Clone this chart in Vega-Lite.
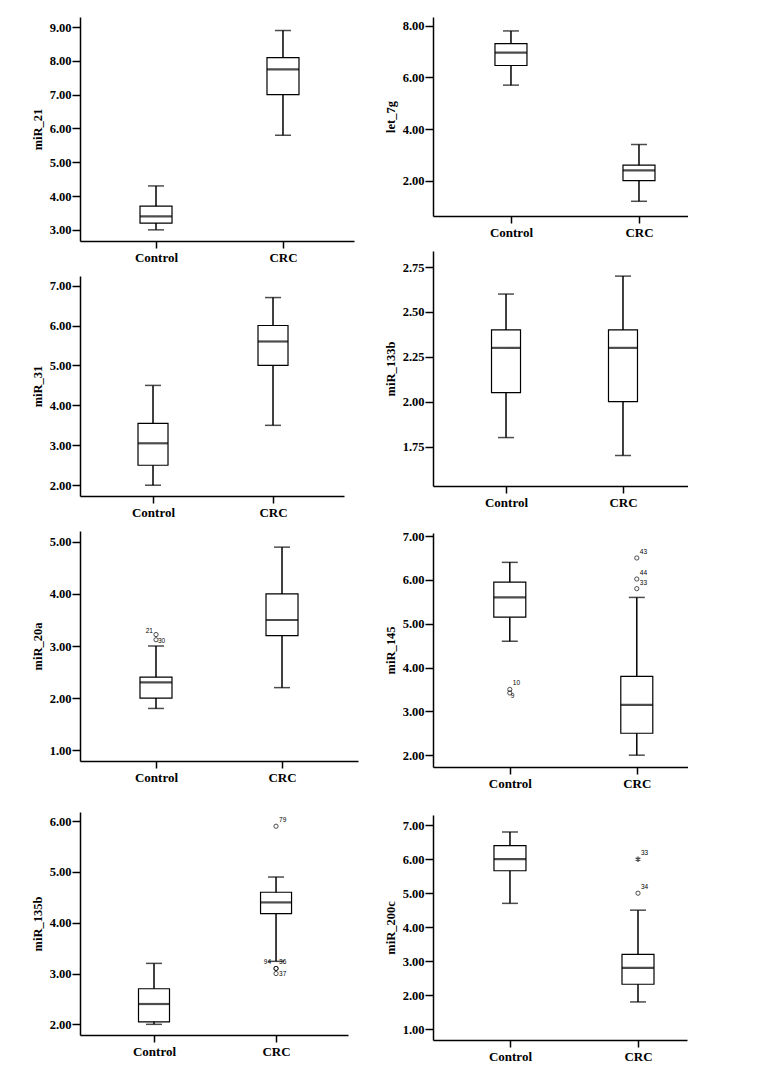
{
  "$schema": "https://vega.github.io/schema/vega-lite/v6.json",
  "background": "white",
  "padding": {"left": 31, "top": 14, "right": 0, "bottom": 0},
  "datasets": {
    "box": [
      {"panel": "miR_21", "group": "Control", "lo": 3.0, "q1": 3.2, "med": 3.4, "q3": 3.7, "hi": 4.3},
      {"panel": "miR_21", "group": "CRC", "lo": 5.8, "q1": 7.0, "med": 7.75, "q3": 8.1, "hi": 8.9},
      {"panel": "let_7g", "group": "Control", "lo": 5.7, "q1": 6.46, "med": 6.96, "q3": 7.31, "hi": 7.8},
      {"panel": "let_7g", "group": "CRC", "lo": 1.2, "q1": 2.0, "med": 2.4, "q3": 2.6, "hi": 3.4},
      {"panel": "miR_31", "group": "Control", "lo": 2.0, "q1": 2.5, "med": 3.05, "q3": 3.55, "hi": 4.5},
      {"panel": "miR_31", "group": "CRC", "lo": 3.5, "q1": 5.0, "med": 5.6, "q3": 6.0, "hi": 6.7},
      {"panel": "miR_133b", "group": "Control", "lo": 1.8, "q1": 2.05, "med": 2.3, "q3": 2.4, "hi": 2.6},
      {"panel": "miR_133b", "group": "CRC", "lo": 1.7, "q1": 2.0, "med": 2.3, "q3": 2.4, "hi": 2.7},
      {"panel": "miR_20a", "group": "Control", "lo": 1.8, "q1": 2.0, "med": 2.3, "q3": 2.4, "hi": 3.0},
      {"panel": "miR_20a", "group": "CRC", "lo": 2.2, "q1": 3.2, "med": 3.5, "q3": 4.0, "hi": 4.9},
      {"panel": "miR_145", "group": "Control", "lo": 4.6, "q1": 5.15, "med": 5.6, "q3": 5.95, "hi": 6.4},
      {"panel": "miR_145", "group": "CRC", "lo": 2.0, "q1": 2.5, "med": 3.15, "q3": 3.8, "hi": 5.6},
      {"panel": "miR_135b", "group": "Control", "lo": 2.0, "q1": 2.05, "med": 2.4, "q3": 2.7, "hi": 3.2},
      {"panel": "miR_135b", "group": "CRC", "lo": 3.24, "q1": 4.18, "med": 4.4, "q3": 4.6, "hi": 4.9},
      {"panel": "miR_200c", "group": "Control", "lo": 4.7, "q1": 5.66, "med": 6.0, "q3": 6.4, "hi": 6.8},
      {"panel": "miR_200c", "group": "CRC", "lo": 1.8, "q1": 2.32, "med": 2.8, "q3": 3.2, "hi": 4.5}
    ],
    "out": [
      {"panel": "miR_20a", "group": "Control", "value": 3.22, "label": "21", "kind": "circle"},
      {"panel": "miR_20a", "group": "Control", "value": 3.12, "label": "30", "kind": "circle"},
      {"panel": "miR_145", "group": "Control", "value": 3.5, "label": "10", "kind": "circle"},
      {"panel": "miR_145", "group": "Control", "value": 3.42, "label": "9", "kind": "circle"},
      {"panel": "miR_145", "group": "CRC", "value": 6.5, "label": "43", "kind": "circle"},
      {"panel": "miR_145", "group": "CRC", "value": 6.02, "label": "44", "kind": "circle"},
      {"panel": "miR_145", "group": "CRC", "value": 5.8, "label": "33", "kind": "circle"},
      {"panel": "miR_135b", "group": "CRC", "value": 5.9, "label": "79", "kind": "circle"},
      {"panel": "miR_135b", "group": "CRC", "value": 3.1, "label": "94", "kind": "circle"},
      {"panel": "miR_135b", "group": "CRC", "value": 3.1, "label": "36", "kind": "circle"},
      {"panel": "miR_135b", "group": "CRC", "value": 3.0, "label": "37", "kind": "circle"},
      {"panel": "miR_200c", "group": "CRC", "value": 6.0, "label": "33", "kind": "star"},
      {"panel": "miR_200c", "group": "CRC", "value": 5.0, "label": "34", "kind": "circle"}
    ]
  },
  "config": {
    "view": {"stroke": null},
    "text": {"color": "black", "fill": "black"},
    "axis": {
      "grid": false,
      "labelOverlap": false,
      "domainColor": "black",
      "domainWidth": 1.5,
      "tickColor": "black",
      "tickWidth": 1.5,
      "labelColor": "black",
      "titleColor": "black",
      "labelFont": "Liberation Serif",
      "titleFont": "Liberation Serif",
      "labelFontWeight": "bold",
      "titleFontWeight": "bold"
    },
    "axisY": {"tickSize": 8, "labelPadding": 1, "labelFontSize": 12.5, "titleFontSize": 12.5, "minExtent": 31, "maxExtent": 31, "titlePadding": 5, "format": ".2f"},
    "axisX": {"tickSize": 7, "labelPadding": 3, "labelFontSize": 13, "labelAngle": 0},
    "title": {"fontSize": 1, "color": "white"}
  },
  "hconcat": [
    {
      "spacing": 12,
      "vconcat": [
        {
          "width": 274, "height": 224,
          "encoding": {"x": {"field": "group", "type": "nominal", "sort": ["Control", "CRC"], "title": null, "scale": {"type": "point", "padding": 0.579, "align": 0.517}}},
          "layer": [
            {"data": {"name": "box"}, "transform": [{"filter": "datum.panel === 'miR_21'"}], "mark": {"type": "rule", "color": "black", "strokeWidth": 1.5},
             "encoding": {"y": {"field": "lo", "type": "quantitative", "title": "miR_21", "scale": {"domain": [2.67, 9.3], "zero": false, "nice": false}, "axis": {"values": [3, 4, 5, 6, 7, 8, 9], "tickCount": 20, "labelOverlap": false}}, "y2": {"field": "hi"}}},
            {"data": {"name": "box"}, "transform": [{"filter": "datum.panel === 'miR_21'"}], "mark": {"type": "tick", "color": "black", "size": 16, "thickness": 1.5},
             "encoding": {"y": {"field": "lo", "type": "quantitative", "title": "miR_21"}}},
            {"data": {"name": "box"}, "transform": [{"filter": "datum.panel === 'miR_21'"}], "mark": {"type": "tick", "color": "black", "size": 16, "thickness": 1.5},
             "encoding": {"y": {"field": "hi", "type": "quantitative", "title": "miR_21"}}},
            {"data": {"name": "box"}, "transform": [{"filter": "datum.panel === 'miR_21'"}], "mark": {"type": "bar", "size": 32, "fill": "white", "stroke": "black", "strokeWidth": 1.2},
             "encoding": {"y": {"field": "q1", "type": "quantitative", "title": "miR_21"}, "y2": {"field": "q3"}}},
            {"data": {"name": "box"}, "transform": [{"filter": "datum.panel === 'miR_21'"}], "mark": {"type": "tick", "color": "black", "size": 32, "thickness": 2.2},
             "encoding": {"y": {"field": "med", "type": "quantitative", "title": "miR_21"}}}
          ]
        },
        {
          "width": 264, "height": 220,
          "encoding": {"x": {"field": "group", "type": "nominal", "sort": ["Control", "CRC"], "title": null, "scale": {"type": "point", "padding": 0.6, "align": 0.507}}},
          "layer": [
            {"data": {"name": "box"}, "transform": [{"filter": "datum.panel === 'miR_31'"}], "mark": {"type": "rule", "color": "black", "strokeWidth": 1.5},
             "encoding": {"y": {"field": "lo", "type": "quantitative", "title": "miR_31", "scale": {"domain": [1.73, 7.24], "zero": false, "nice": false}, "axis": {"values": [2, 3, 4, 5, 6, 7], "tickCount": 20, "labelOverlap": false}}, "y2": {"field": "hi"}}},
            {"data": {"name": "box"}, "transform": [{"filter": "datum.panel === 'miR_31'"}], "mark": {"type": "tick", "color": "black", "size": 16, "thickness": 1.5},
             "encoding": {"y": {"field": "lo", "type": "quantitative", "title": "miR_31"}}},
            {"data": {"name": "box"}, "transform": [{"filter": "datum.panel === 'miR_31'"}], "mark": {"type": "tick", "color": "black", "size": 16, "thickness": 1.5},
             "encoding": {"y": {"field": "hi", "type": "quantitative", "title": "miR_31"}}},
            {"data": {"name": "box"}, "transform": [{"filter": "datum.panel === 'miR_31'"}], "mark": {"type": "bar", "size": 30, "fill": "white", "stroke": "black", "strokeWidth": 1.2},
             "encoding": {"y": {"field": "q1", "type": "quantitative", "title": "miR_31"}, "y2": {"field": "q3"}}},
            {"data": {"name": "box"}, "transform": [{"filter": "datum.panel === 'miR_31'"}], "mark": {"type": "tick", "color": "black", "size": 30, "thickness": 2.2},
             "encoding": {"y": {"field": "med", "type": "quantitative", "title": "miR_31"}}}
          ]
        },
        {
          "width": 278, "height": 230,
          "encoding": {"x": {"field": "group", "type": "nominal", "sort": ["Control", "CRC"], "title": null, "scale": {"type": "point", "padding": 0.603, "align": 0.5}}},
          "layer": [
            {"data": {"name": "box"}, "transform": [{"filter": "datum.panel === 'miR_20a'"}], "mark": {"type": "rule", "color": "black", "strokeWidth": 1.5},
             "encoding": {"y": {"field": "lo", "type": "quantitative", "title": "miR_20a", "scale": {"domain": [0.79, 5.21], "zero": false, "nice": false}, "axis": {"values": [1, 2, 3, 4, 5], "tickCount": 20, "labelOverlap": false}}, "y2": {"field": "hi"}}},
            {"data": {"name": "box"}, "transform": [{"filter": "datum.panel === 'miR_20a'"}], "mark": {"type": "tick", "color": "black", "size": 16, "thickness": 1.5},
             "encoding": {"y": {"field": "lo", "type": "quantitative", "title": "miR_20a"}}},
            {"data": {"name": "box"}, "transform": [{"filter": "datum.panel === 'miR_20a'"}], "mark": {"type": "tick", "color": "black", "size": 16, "thickness": 1.5},
             "encoding": {"y": {"field": "hi", "type": "quantitative", "title": "miR_20a"}}},
            {"data": {"name": "box"}, "transform": [{"filter": "datum.panel === 'miR_20a'"}], "mark": {"type": "bar", "size": 32, "fill": "white", "stroke": "black", "strokeWidth": 1.2},
             "encoding": {"y": {"field": "q1", "type": "quantitative", "title": "miR_20a"}, "y2": {"field": "q3"}}},
            {"data": {"name": "box"}, "transform": [{"filter": "datum.panel === 'miR_20a'"}], "mark": {"type": "tick", "color": "black", "size": 32, "thickness": 2.2},
             "encoding": {"y": {"field": "med", "type": "quantitative", "title": "miR_20a"}}},
            {"data": {"name": "out"}, "transform": [{"filter": "datum.panel === 'miR_20a' && datum.kind === 'circle'"}], "mark": {"type": "point", "shape": "circle", "size": 18, "filled": false, "stroke": "black", "strokeWidth": 1},
             "encoding": {"y": {"field": "value", "type": "quantitative", "title": "miR_20a"}}},
            {"data": {"name": "out"}, "transform": [{"filter": "datum.panel === 'miR_20a' && datum.label === '21'"}], "mark": {"type": "text", "color": "black", "font": "Liberation Sans", "fontSize": 6.5, "align": "right", "baseline": "middle", "dx": -3, "dy": -4},
             "encoding": {"y": {"field": "value", "type": "quantitative", "title": "miR_20a"}, "text": {"field": "label"}}},
            {"data": {"name": "out"}, "transform": [{"filter": "datum.panel === 'miR_20a' && datum.label === '30'"}], "mark": {"type": "text", "color": "black", "font": "Liberation Sans", "fontSize": 6.5, "align": "left", "baseline": "middle", "dx": 2, "dy": 1},
             "encoding": {"y": {"field": "value", "type": "quantitative", "title": "miR_20a"}, "text": {"field": "label"}}}
          ]
        },
        {
          "width": 268, "height": 223,
          "title": {"text": " ", "offset": 15},
          "encoding": {"x": {"field": "group", "type": "nominal", "sort": ["Control", "CRC"], "title": null, "scale": {"type": "point", "padding": 0.598, "align": 0.507}}},
          "layer": [
            {"data": {"name": "box"}, "transform": [{"filter": "datum.panel === 'miR_135b'"}], "mark": {"type": "rule", "color": "black", "strokeWidth": 1.5},
             "encoding": {"y": {"field": "lo", "type": "quantitative", "title": "miR_135b", "scale": {"domain": [1.79, 6.18], "zero": false, "nice": false}, "axis": {"values": [2, 3, 4, 5, 6], "tickCount": 20, "labelOverlap": false}}, "y2": {"field": "hi"}}},
            {"data": {"name": "box"}, "transform": [{"filter": "datum.panel === 'miR_135b'"}], "mark": {"type": "tick", "color": "black", "size": 16, "thickness": 1.5},
             "encoding": {"y": {"field": "lo", "type": "quantitative", "title": "miR_135b"}}},
            {"data": {"name": "box"}, "transform": [{"filter": "datum.panel === 'miR_135b'"}], "mark": {"type": "tick", "color": "black", "size": 16, "thickness": 1.5},
             "encoding": {"y": {"field": "hi", "type": "quantitative", "title": "miR_135b"}}},
            {"data": {"name": "box"}, "transform": [{"filter": "datum.panel === 'miR_135b'"}], "mark": {"type": "bar", "size": 31, "fill": "white", "stroke": "black", "strokeWidth": 1.2},
             "encoding": {"y": {"field": "q1", "type": "quantitative", "title": "miR_135b"}, "y2": {"field": "q3"}}},
            {"data": {"name": "box"}, "transform": [{"filter": "datum.panel === 'miR_135b'"}], "mark": {"type": "tick", "color": "black", "size": 31, "thickness": 2.2},
             "encoding": {"y": {"field": "med", "type": "quantitative", "title": "miR_135b"}}},
            {"data": {"name": "out"}, "transform": [{"filter": "datum.panel === 'miR_135b' && datum.kind === 'circle'"}], "mark": {"type": "point", "shape": "circle", "size": 18, "filled": false, "stroke": "black", "strokeWidth": 1},
             "encoding": {"y": {"field": "value", "type": "quantitative", "title": "miR_135b"}}},
            {"data": {"name": "out"}, "transform": [{"filter": "datum.panel === 'miR_135b' && (datum.label === '79' || datum.label === '36')"}], "mark": {"type": "text", "color": "black", "font": "Liberation Sans", "fontSize": 6.5, "align": "left", "baseline": "middle", "dx": 3, "dy": -6},
             "encoding": {"y": {"field": "value", "type": "quantitative", "title": "miR_135b"}, "text": {"field": "label"}}},
            {"data": {"name": "out"}, "transform": [{"filter": "datum.panel === 'miR_135b' && datum.label === '94'"}], "mark": {"type": "text", "color": "black", "font": "Liberation Sans", "fontSize": 6.5, "align": "right", "baseline": "middle", "dx": -5, "dy": -6},
             "encoding": {"y": {"field": "value", "type": "quantitative", "title": "miR_135b"}, "text": {"field": "label"}}},
            {"data": {"name": "out"}, "transform": [{"filter": "datum.panel === 'miR_135b' && datum.label === '37'"}], "mark": {"type": "text", "color": "black", "font": "Liberation Sans", "fontSize": 6.5, "align": "left", "baseline": "middle", "dx": 3, "dy": 0},
             "encoding": {"y": {"field": "value", "type": "quantitative", "title": "miR_135b"}, "text": {"field": "label"}}}
          ]
        }
      ]
    },
    {
      "spacing": 12,
      "vconcat": [
        {
          "width": 255, "height": 199,
          "title": {"text": " ", "offset": 2},
          "encoding": {"x": {"field": "group", "type": "nominal", "sort": ["Control", "CRC"], "title": null, "scale": {"type": "point", "padding": 0.496, "align": 0.614}}},
          "layer": [
            {"data": {"name": "box"}, "transform": [{"filter": "datum.panel === 'let_7g'"}], "mark": {"type": "rule", "color": "black", "strokeWidth": 1.5},
             "encoding": {"y": {"field": "lo", "type": "quantitative", "title": "let_7g", "scale": {"domain": [0.63, 8.34], "zero": false, "nice": false}, "axis": {"values": [2, 4, 6, 8], "tickCount": 20, "labelOverlap": false}}, "y2": {"field": "hi"}}},
            {"data": {"name": "box"}, "transform": [{"filter": "datum.panel === 'let_7g'"}], "mark": {"type": "tick", "color": "black", "size": 16, "thickness": 1.5},
             "encoding": {"y": {"field": "lo", "type": "quantitative", "title": "let_7g"}}},
            {"data": {"name": "box"}, "transform": [{"filter": "datum.panel === 'let_7g'"}], "mark": {"type": "tick", "color": "black", "size": 16, "thickness": 1.5},
             "encoding": {"y": {"field": "hi", "type": "quantitative", "title": "let_7g"}}},
            {"data": {"name": "box"}, "transform": [{"filter": "datum.panel === 'let_7g'"}], "mark": {"type": "bar", "size": 32, "fill": "white", "stroke": "black", "strokeWidth": 1.2},
             "encoding": {"y": {"field": "q1", "type": "quantitative", "title": "let_7g"}, "y2": {"field": "q3"}}},
            {"data": {"name": "box"}, "transform": [{"filter": "datum.panel === 'let_7g'"}], "mark": {"type": "tick", "color": "black", "size": 32, "thickness": 2.2},
             "encoding": {"y": {"field": "med", "type": "quantitative", "title": "let_7g"}}}
          ]
        },
        {
          "width": 255, "height": 235,
          "encoding": {"x": {"field": "group", "type": "nominal", "sort": ["Control", "CRC"], "title": null, "scale": {"type": "point", "padding": 0.59, "align": 0.529}}},
          "layer": [
            {"data": {"name": "box"}, "transform": [{"filter": "datum.panel === 'miR_133b'"}], "mark": {"type": "rule", "color": "black", "strokeWidth": 1.5},
             "encoding": {"y": {"field": "lo", "type": "quantitative", "title": "miR_133b", "scale": {"domain": [1.53, 2.84], "zero": false, "nice": false}, "axis": {"values": [1.75, 2, 2.25, 2.5, 2.75], "tickCount": 20, "labelOverlap": false}}, "y2": {"field": "hi"}}},
            {"data": {"name": "box"}, "transform": [{"filter": "datum.panel === 'miR_133b'"}], "mark": {"type": "tick", "color": "black", "size": 16, "thickness": 1.5},
             "encoding": {"y": {"field": "lo", "type": "quantitative", "title": "miR_133b"}}},
            {"data": {"name": "box"}, "transform": [{"filter": "datum.panel === 'miR_133b'"}], "mark": {"type": "tick", "color": "black", "size": 16, "thickness": 1.5},
             "encoding": {"y": {"field": "hi", "type": "quantitative", "title": "miR_133b"}}},
            {"data": {"name": "box"}, "transform": [{"filter": "datum.panel === 'miR_133b'"}], "mark": {"type": "bar", "size": 29, "fill": "white", "stroke": "black", "strokeWidth": 1.2},
             "encoding": {"y": {"field": "q1", "type": "quantitative", "title": "miR_133b"}, "y2": {"field": "q3"}}},
            {"data": {"name": "box"}, "transform": [{"filter": "datum.panel === 'miR_133b'"}], "mark": {"type": "tick", "color": "black", "size": 29, "thickness": 2.2},
             "encoding": {"y": {"field": "med", "type": "quantitative", "title": "miR_133b"}}}
          ]
        },
        {
          "width": 255, "height": 234,
          "title": {"text": " ", "offset": 8},
          "encoding": {"x": {"field": "group", "type": "nominal", "sort": ["Control", "CRC"], "title": null, "scale": {"type": "point", "padding": 0.504, "align": 0.6}}},
          "layer": [
            {"data": {"name": "box"}, "transform": [{"filter": "datum.panel === 'miR_145'"}], "mark": {"type": "rule", "color": "black", "strokeWidth": 1.5},
             "encoding": {"y": {"field": "lo", "type": "quantitative", "title": "miR_145", "scale": {"domain": [1.73, 7.07], "zero": false, "nice": false}, "axis": {"values": [2, 3, 4, 5, 6, 7], "tickCount": 20, "labelOverlap": false}}, "y2": {"field": "hi"}}},
            {"data": {"name": "box"}, "transform": [{"filter": "datum.panel === 'miR_145'"}], "mark": {"type": "tick", "color": "black", "size": 16, "thickness": 1.5},
             "encoding": {"y": {"field": "lo", "type": "quantitative", "title": "miR_145"}}},
            {"data": {"name": "box"}, "transform": [{"filter": "datum.panel === 'miR_145'"}], "mark": {"type": "tick", "color": "black", "size": 16, "thickness": 1.5},
             "encoding": {"y": {"field": "hi", "type": "quantitative", "title": "miR_145"}}},
            {"data": {"name": "box"}, "transform": [{"filter": "datum.panel === 'miR_145'"}], "mark": {"type": "bar", "size": 32, "fill": "white", "stroke": "black", "strokeWidth": 1.2},
             "encoding": {"y": {"field": "q1", "type": "quantitative", "title": "miR_145"}, "y2": {"field": "q3"}}},
            {"data": {"name": "box"}, "transform": [{"filter": "datum.panel === 'miR_145'"}], "mark": {"type": "tick", "color": "black", "size": 32, "thickness": 2.2},
             "encoding": {"y": {"field": "med", "type": "quantitative", "title": "miR_145"}}},
            {"data": {"name": "out"}, "transform": [{"filter": "datum.panel === 'miR_145' && datum.kind === 'circle'"}], "mark": {"type": "point", "shape": "circle", "size": 18, "filled": false, "stroke": "black", "strokeWidth": 1},
             "encoding": {"y": {"field": "value", "type": "quantitative", "title": "miR_145"}}},
            {"data": {"name": "out"}, "transform": [{"filter": "datum.panel === 'miR_145' && datum.label !== '9'"}], "mark": {"type": "text", "color": "black", "font": "Liberation Sans", "fontSize": 6.5, "align": "left", "baseline": "middle", "dx": 3, "dy": -6},
             "encoding": {"y": {"field": "value", "type": "quantitative", "title": "miR_145"}, "text": {"field": "label"}}},
            {"data": {"name": "out"}, "transform": [{"filter": "datum.panel === 'miR_145' && datum.label === '9'"}], "mark": {"type": "text", "color": "black", "font": "Liberation Sans", "fontSize": 6.5, "align": "left", "baseline": "middle", "dx": 1, "dy": 3},
             "encoding": {"y": {"field": "value", "type": "quantitative", "title": "miR_145"}, "text": {"field": "label"}}}
          ]
        },
        {
          "width": 254, "height": 225,
          "title": {"text": " ", "offset": 12},
          "encoding": {"x": {"field": "group", "type": "nominal", "sort": ["Control", "CRC"], "title": null, "scale": {"type": "point", "padding": 0.492, "align": 0.611}}},
          "layer": [
            {"data": {"name": "box"}, "transform": [{"filter": "datum.panel === 'miR_200c'"}], "mark": {"type": "rule", "color": "black", "strokeWidth": 1.5},
             "encoding": {"y": {"field": "lo", "type": "quantitative", "title": "miR_200c", "scale": {"domain": [0.68, 7.3], "zero": false, "nice": false}, "axis": {"values": [1, 2, 3, 4, 5, 6, 7], "tickCount": 20, "labelOverlap": false}}, "y2": {"field": "hi"}}},
            {"data": {"name": "box"}, "transform": [{"filter": "datum.panel === 'miR_200c'"}], "mark": {"type": "tick", "color": "black", "size": 16, "thickness": 1.5},
             "encoding": {"y": {"field": "lo", "type": "quantitative", "title": "miR_200c"}}},
            {"data": {"name": "box"}, "transform": [{"filter": "datum.panel === 'miR_200c'"}], "mark": {"type": "tick", "color": "black", "size": 16, "thickness": 1.5},
             "encoding": {"y": {"field": "hi", "type": "quantitative", "title": "miR_200c"}}},
            {"data": {"name": "box"}, "transform": [{"filter": "datum.panel === 'miR_200c'"}], "mark": {"type": "bar", "size": 32, "fill": "white", "stroke": "black", "strokeWidth": 1.2},
             "encoding": {"y": {"field": "q1", "type": "quantitative", "title": "miR_200c"}, "y2": {"field": "q3"}}},
            {"data": {"name": "box"}, "transform": [{"filter": "datum.panel === 'miR_200c'"}], "mark": {"type": "tick", "color": "black", "size": 32, "thickness": 2.2},
             "encoding": {"y": {"field": "med", "type": "quantitative", "title": "miR_200c"}}},
            {"data": {"name": "out"}, "transform": [{"filter": "datum.panel === 'miR_200c' && datum.kind === 'circle'"}], "mark": {"type": "point", "shape": "circle", "size": 18, "filled": false, "stroke": "black", "strokeWidth": 1},
             "encoding": {"y": {"field": "value", "type": "quantitative", "title": "miR_200c"}}},
            {"data": {"name": "out"}, "transform": [{"filter": "datum.panel === 'miR_200c' && datum.kind === 'star'"}], "mark": {"type": "point", "shape": "M0,-1L0,1M-0.87,-0.5L0.87,0.5M-0.87,0.5L0.87,-0.5", "size": 30, "filled": false, "stroke": "black", "strokeWidth": 1.3},
             "encoding": {"y": {"field": "value", "type": "quantitative", "title": "miR_200c"}}},
            {"data": {"name": "out"}, "transform": [{"filter": "datum.panel === 'miR_200c'"}], "mark": {"type": "text", "color": "black", "font": "Liberation Sans", "fontSize": 6.5, "align": "left", "baseline": "middle", "dx": 3, "dy": -6},
             "encoding": {"y": {"field": "value", "type": "quantitative", "title": "miR_200c"}, "text": {"field": "label"}}}
          ]
        }
      ]
    }
  ],
  "spacing": 26
}
